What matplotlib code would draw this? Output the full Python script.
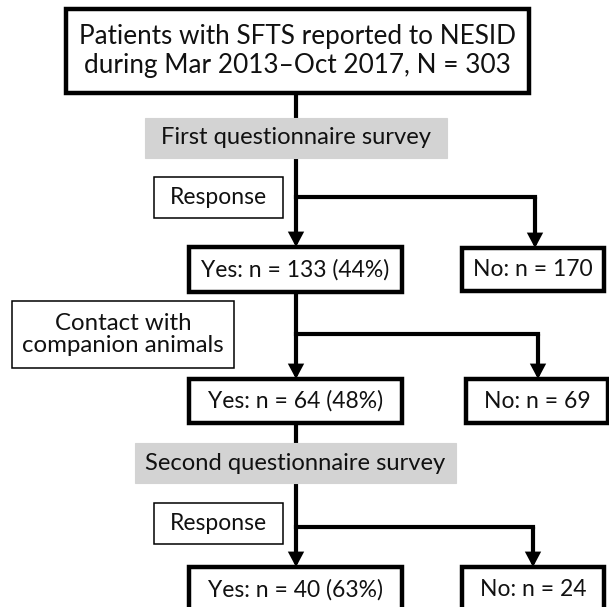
"""
Flow chart of SFTS patients through the two questionnaire surveys.
"""
import matplotlib
matplotlib.use('Agg')
import matplotlib.pyplot as plt
from matplotlib.patches import Rectangle

plt.rcParams['font.family'] = ['Lato', 'DejaVu Sans']

# chart content
title_text = 'Patients with SFTS reported to NESID\nduring Mar 2013\u2013Oct 2017, N = 303'
surveys = ['First questionnaire survey', 'Second questionnaire survey']
criteria = ['Response', 'Contact with\ncompanion animals', 'Response']
yes_n = [133, 64, 40]
yes_pct = [44, 48, 63]
no_n = [170, 69, 24]

# layout (pixel coordinates, y grows downward)
W, H = 609, 607
trunk_x = 296
top_box = (66, 9, 529, 93)
survey_boxes = [(145, 118, 447, 158), (135, 443, 456, 483)]
crit_boxes = [(154, 177, 283, 218), (12, 301, 234, 368), (154, 503, 283, 544)]
crit_fs = [16.5, 17.3, 16.5]
yes_boxes = [(189, 247, 402, 292), (189, 379, 402, 423), (189, 567, 402, 612)]
no_boxes = [(462, 248, 604, 291), (466, 379, 608, 423), (462, 567, 604, 612)]
branch_y = [197, 334, 527]
branch_x = [535, 538, 533]
# what the trunk starts from above each stage
stage_start = [158, 292, 483]

LINE_W = 3.0
FS = 16.5
TXT = '#111111'


def box(ax, b, lw, fc='white', ec='black'):
    x0, y0, x1, y1 = b
    ax.add_patch(Rectangle((x0, y0), x1 - x0, y1 - y0, facecolor=fc, edgecolor=ec,
                           lw=lw, joinstyle='miter', zorder=3))


def label(ax, b, s, fs=FS, **kw):
    x0, y0, x1, y1 = b
    ax.text((x0 + x1) / 2, (y0 + y1) / 2, s, ha='center', va='center', fontsize=fs,
            color=TXT, zorder=4, **kw)


def arrow(ax, x, y0, y1):
    ax.annotate('', xy=(x, y1), xytext=(x, y0),
                arrowprops=dict(arrowstyle='-|>,head_length=0.32,head_width=0.17',
                                lw=LINE_W, color='black', shrinkA=0, shrinkB=0,
                                mutation_scale=20, joinstyle='miter'),
                zorder=2)


fig = plt.figure(figsize=(W / 100, H / 100), dpi=100)
ax = fig.add_axes([0, 0, 1, 1])
ax.set_xlim(0, W)
ax.set_ylim(H, 0)
ax.axis('off')

# top box
box(ax, top_box, 3.2)
label(ax, top_box, title_text, fs=18.8, linespacing=1.2)

# connectors to and from the survey boxes
ax.plot([trunk_x, trunk_x], [top_box[3], survey_boxes[0][1]], color='black', lw=LINE_W, zorder=1)
ax.plot([trunk_x, trunk_x], [yes_boxes[1][3], survey_boxes[1][1]], color='black', lw=LINE_W, zorder=1)

for b, s in zip(survey_boxes, surveys):
    box(ax, b, 0.8, fc='#d3d3d3', ec='#d3d3d3')
    label(ax, b, s, fs=17.1)

for i in range(3):
    # trunk down to the yes box, branch right to the no box
    arrow(ax, trunk_x, stage_start[i], yes_boxes[i][1])
    ax.plot([trunk_x, branch_x[i]], [branch_y[i], branch_y[i]], color='black', lw=LINE_W,
            solid_capstyle='projecting', zorder=1)
    arrow(ax, branch_x[i], branch_y[i], no_boxes[i][1])

    box(ax, crit_boxes[i], 1.1)
    label(ax, crit_boxes[i], criteria[i], fs=crit_fs[i], linespacing=1.05)

    box(ax, yes_boxes[i], 3.2)
    label(ax, yes_boxes[i], f'Yes: n = {yes_n[i]} ({yes_pct[i]}%)')
    box(ax, no_boxes[i], 3.2)
    label(ax, no_boxes[i], f'No: n = {no_n[i]}')

fig.savefig('out.png', dpi=100)
plt.close(fig)
